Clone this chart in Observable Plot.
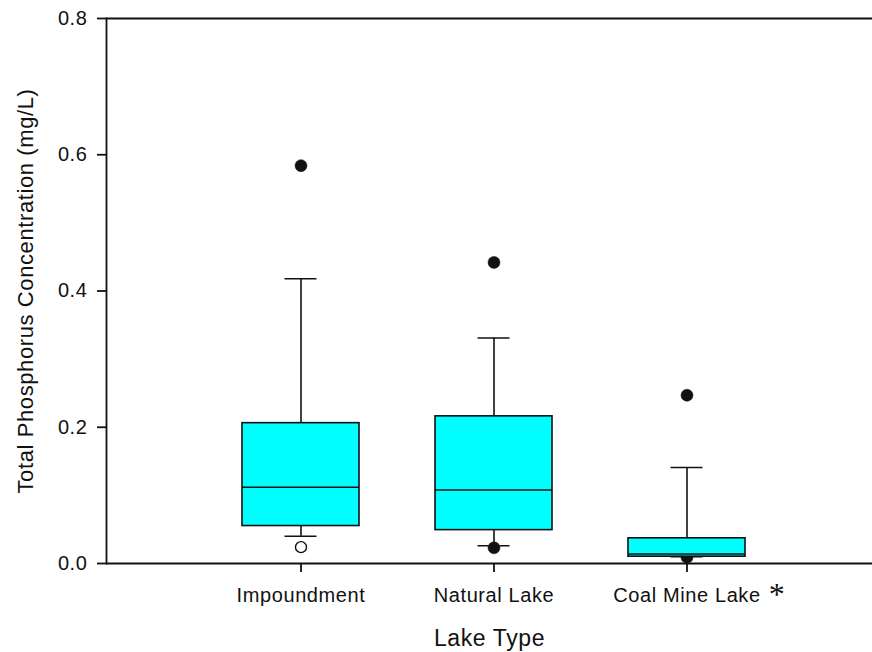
<!DOCTYPE html>
<html>
<head>
<meta charset="utf-8">
<script src="https://cdn.jsdelivr.net/npm/d3@7"></script>
<script src="https://cdn.jsdelivr.net/npm/@observablehq/plot@0.6"></script>
<style>
  html, body { margin: 0; padding: 0; background: #fff; }
  #chart svg { display: block; }
</style>
</head>
<body>
<div id="chart"></div>
<script>
// Lake categories and box-plot summary statistics (mg/L)
const categories = ["Impoundment", "Natural Lake", "Coal Mine Lake"];
const q1 = [0.055, 0.049, 0.010];
const median = [0.112, 0.108, 0.014];
const q3 = [0.206, 0.216, 0.037];
const whiskerLow = [0.040, 0.026, 0.010];
const whiskerHigh = [0.418, 0.331, 0.141];

// Extreme points beyond the whiskers
const filledCategory = ["Impoundment", "Natural Lake", "Natural Lake", "Coal Mine Lake", "Coal Mine Lake"];
const filledValue = [0.584, 0.442, 0.023, 0.247, 0.009];
const openCategory = ["Impoundment"];
const openValue = [0.024];

const yTicks = [0, 0.2, 0.4, 0.6, 0.8];

const boxes = categories.map((c, i) => ({
  lake: c, q1: q1[i], median: median[i], q3: q3[i], lo: whiskerLow[i], hi: whiskerHigh[i]
}));
const filled = filledCategory.map((c, i) => ({lake: c, value: filledValue[i]}));
const open = openCategory.map((c, i) => ({lake: c, value: openValue[i]}));

const font = "'Liberation Sans', Arial, sans-serif";
const ink = "#111";

const chart = Plot.plot({
  width: 872,
  height: 652,
  marginTop: 18,
  marginBottom: 89,
  marginLeft: 106,
  marginRight: 0,
  style: {fontFamily: font, fontSize: "20px", color: ink, background: "#fff", letterSpacing: "0.6px"},
  x: {domain: categories, range: [241.5, 745.5], paddingInner: 0.395, paddingOuter: 0, axis: null},
  y: {domain: [0, 0.8], axis: null},
  marks: [
    // frame: left, top and bottom lines
    Plot.frame({anchor: "left", stroke: ink, strokeWidth: 1.8}),
    Plot.ruleY([0, 0.8], {stroke: ink, strokeWidth: 1.8}),
    // axes
    Plot.axisY({ticks: yTicks, tickFormat: d3.format(".1f"), tickSize: 9, tickPadding: 10,
      fontSize: 20, stroke: ink, strokeWidth: 1.8, label: null}),
    Plot.axisX({tickSize: 9, tickPadding: 15, fontSize: 20, stroke: ink, strokeWidth: 1.8, label: null}),
    // axis titles
    Plot.text(["Total Phosphorus Concentration (mg/L)"], {frameAnchor: "left", rotate: -90, dx: -81,
      fontSize: 22, fill: ink, lineAnchor: "middle", textAnchor: "middle"}),
    Plot.text(["Lake Type"], {frameAnchor: "bottom", dy: 75, fontSize: 23, fill: ink,
      lineAnchor: "middle", textAnchor: "middle"}),
    // significance marker beside the coal mine label
    Plot.text(["*"], {x: () => "Coal Mine Lake", frameAnchor: "bottom", dx: 90, dy: 31,
      fontSize: 32, fill: ink, lineAnchor: "middle", textAnchor: "middle", fontFamily: "'Liberation Serif', serif"}),
    // extreme points
    Plot.dot(filled, {x: "lake", y: "value", r: 6, fill: ink, stroke: ink, strokeWidth: 0.5}),
    Plot.dot(open, {x: "lake", y: "value", r: 5.5, fill: "#fff", stroke: ink, strokeWidth: 1.4}),
    // whiskers and caps
    Plot.ruleX(boxes, {x: "lake", y1: "q3", y2: "hi", stroke: ink, strokeWidth: 1.6}),
    Plot.ruleX(boxes, {x: "lake", y1: "lo", y2: "q1", stroke: ink, strokeWidth: 1.6}),
    Plot.tickY(boxes, {x: "lake", y: "hi", insetLeft: 42.5, insetRight: 42.5, stroke: ink, strokeWidth: 1.6}),
    Plot.tickY(boxes, {x: "lake", y: "lo", insetLeft: 42.5, insetRight: 42.5, stroke: ink, strokeWidth: 1.6}),
    // boxes and medians
    Plot.barY(boxes, {x: "lake", y1: "q1", y2: "q3", fill: "#00ffff", stroke: ink, strokeWidth: 1.6}),
    Plot.tickY(boxes, {x: "lake", y: "median", stroke: ink, strokeWidth: 1.6})
  ]
});

document.getElementById("chart").appendChild(chart);
</script>
</body>
</html>
